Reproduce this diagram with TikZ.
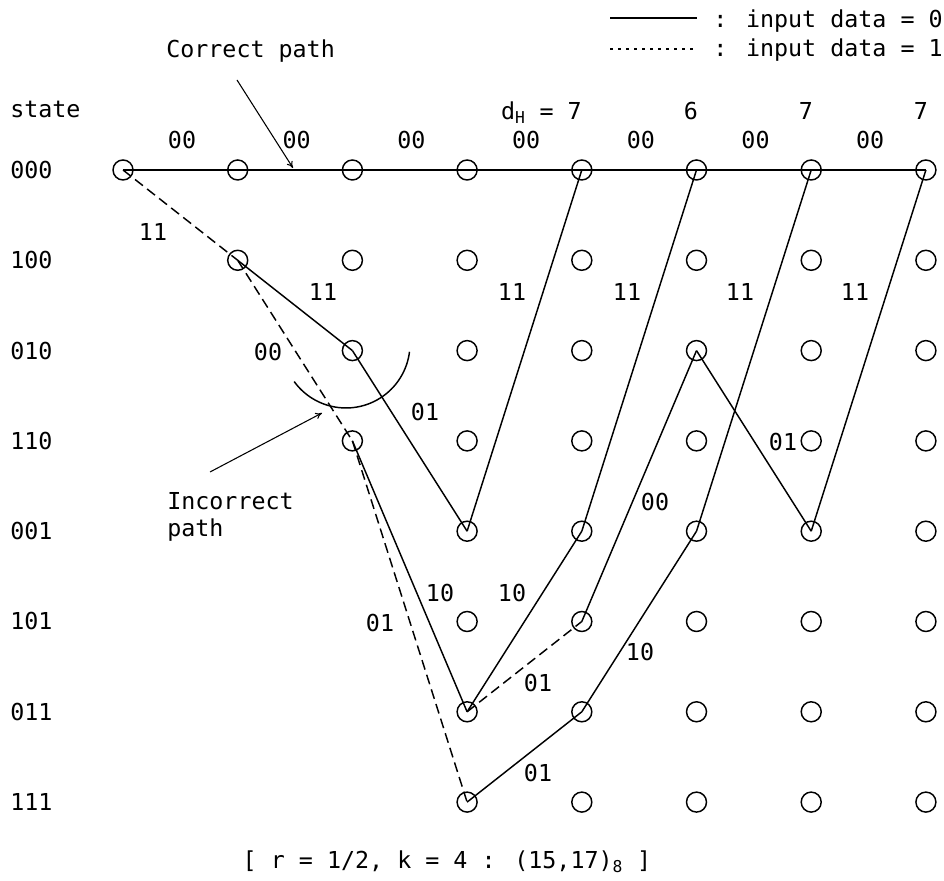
\documentclass[tikz,border=0pt]{standalone}
\usepackage{fontspec}
\setmainfont{DejaVu Sans Mono}
\usetikzlibrary{arrows.meta}

\begin{document}
\begin{tikzpicture}[
		x=0.75pt, y=0.75pt,
		font=\fontsize{17.5}{19.5}\selectfont,
		every node/.style={inner sep=0pt},
		stnode/.style={draw, circle, minimum size=15pt, line width=1.1pt},
		zero/.style={line width=1.1pt},
		one/.style={line width=1.1pt, dash pattern=on 7.5pt off 4pt},
		dotline/.style={line width=1pt, dash pattern=on 2.5pt off 3.5pt},
		ptr/.style={line width=0.8pt, -{To[length=5pt,width=5pt]}}
		]
		\useasboundingbox (0,0) rectangle (944,880);
		
		% legend
		\coordinate (la) at (610,862);
		\coordinate (lb) at (697,862);
		\coordinate (lc) at (610,831);
		\coordinate (ld) at (697,831);
		\draw[zero] (la)--(lb);
		\draw[dotline] (lc)--(ld);
		\node[anchor=base west] (k0) at (713,852) {: input data = 0};
		\node[anchor=base west] (k1) at (713,823) {: input data = 1};
		
		% state labels
		\node[anchor=base west] (st) at (10,762) {state};
		\foreach \r/\s in {0/000,1/100,2/010,3/110,4/001,5/101,6/011,7/111}
		\node[anchor=west] (s\r) at (10,{710-90.3*\r}) {\s};
		
		% trellis nodes
		\node[stnode] (n0-0) at (123,710) {};
		\foreach \r in {0,1}
		\node[stnode] (n1-\r) at ({123+114.7},{710-90.3*\r}) {};
		\foreach \r in {0,...,3}
		\node[stnode] (n2-\r) at ({123+114.7*2},{710-90.3*\r}) {};
		\foreach \c in {3,...,7}
		\foreach \r in {0,...,7}
		\node[stnode] (n\c-\r) at ({123+114.7*\c},{710-90.3*\r}) {};
		
		% branch words on the all-zero path
		\foreach \c in {0,...,6}
		\node (w\c) at ({182+114.7*\c},739.5) {00};
		
		% distances
		\node[anchor=base east] (dh4) at (582,760) {d\textsubscript{H} = 7};
		\node[anchor=base] (dh5) at (691,760) {6};
		\node[anchor=base] (dh6) at (806,760) {7};
		\node[anchor=base] (dh7) at (921,760) {7};
		
		% correct path
		\draw[zero] (n0-0.center)--(n7-0.center);
		
		% incorrect paths
		\draw[one] (n0-0.center)--(n1-1.center);
		\draw[zero] (n1-1.center)--(n2-2.center);
		\draw[one] (n1-1.center)--(n2-3.center);
		\draw[zero] (n2-2.center)--(n3-4.center);
		\draw[zero] (n3-4.center)--(n4-0.center);
		\draw[zero] (n2-3.center)--(n3-6.center);
		\draw[one] (n2-3.center)--(n3-7.center);
		\draw[zero] (n3-6.center)--(n4-4.center);
		\draw[zero] (n4-4.center)--(n5-0.center);
		\draw[one] (n3-6.center)--(n4-5.center);
		\draw[zero] (n4-5.center)--(n5-2.center);
		\draw[zero] (n5-2.center)--(n6-4.center);
		\draw[zero] (n6-4.center)--(n7-0.center);
		\draw[zero] (n3-7.center)--(n4-6.center);
		\draw[zero] (n4-6.center)--(n5-4.center);
		\draw[zero] (n5-4.center)--(n6-0.center);
		
		% branch words
		\node (l1) at (153,648) {11};
		\node (l2) at (323,588) {11};
		\node (l3) at (268,528) {00};
		\node (l4) at (425,468) {01};
		\node (l5) at (440,287) {10};
		\node (l6) at (512,287) {10};
		\node (l7) at (380,257) {01};
		\node (l8) at (538,197) {01};
		\node (l9) at (538,107) {01};
		\node (l10) at (512,588) {11};
		\node (l11) at (627,588) {11};
		\node (l12) at (740,588) {11};
		\node (l13) at (855,588) {11};
		\node (l14) at (655,378) {00};
		\node (l15) at (783,438) {01};
		\node (l16) at (640,228) {10};
		
		% pointers
		\node[anchor=base west] (cp) at (166,822) {Correct path};
		\coordinate (ca) at (237,800);
		\coordinate (cb) at (293,712);
		\draw[ptr] (ca)--(cb);
		
		\node[anchor=base west] (ip1) at (167,370) {Incorrect};
		\node[anchor=base west] (ip2) at (167,343) {path};
		\coordinate (ia) at (210,408);
		\coordinate (ib) at (322,467);
		\draw[ptr] (ia)--(ib);
		
		\coordinate (arcs) at (294.2,498.4);
		\draw[zero] (arcs) arc[start angle=216, end angle=353, radius=48pt];
		
		% code parameters
		\node[anchor=base] (cap) at (447,12) {[ r = 1/2, k = 4 : (15,17)\textsubscript{8} ]};
		
	\end{tikzpicture}
\end{document}
